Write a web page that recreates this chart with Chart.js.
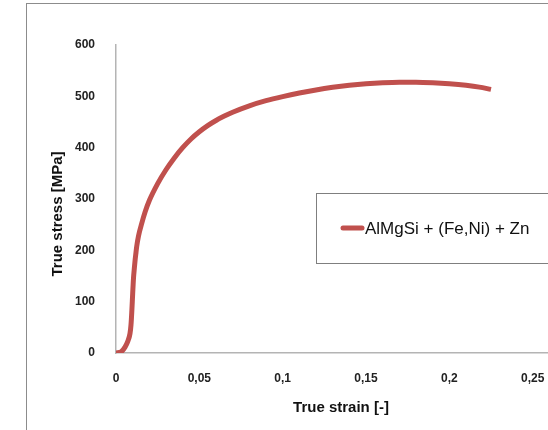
<!DOCTYPE html>
<html>
<head>
    <script src="https://cdn.jsdelivr.net/npm/chart.js"></script>
    <style>
        body { margin: 0; background: #fff; }
        #wrap { position: relative; width: 548px; height: 430px; overflow: hidden; }
        #frame { position: absolute; left: 26px; top: 3px; width: 700px; height: 600px; border: 1.5px solid #8c8c8c; }
        #stressChart { position: absolute; left: 0; top: 0; }
    </style>
</head>
<body>
    <div id="wrap">
        <div id="frame"></div>
        <canvas id="stressChart" width="600" height="430"></canvas>
    </div>

    <script>
    // values
    const seriesName = "AlMgSi + (Fe,Ni) + Zn";
    const strain = [0, 0.003, 0.0055, 0.007, 0.0084, 0.009, 0.0095, 0.010, 0.0105, 0.011, 0.0115, 0.012, 0.0124, 0.0135, 0.0154, 0.0175, 0.020, 0.025, 0.030, 0.035, 0.040, 0.045, 0.050, 0.055, 0.060, 0.065, 0.070, 0.080, 0.090, 0.100, 0.110, 0.120, 0.130, 0.140, 0.150, 0.160, 0.170, 0.180, 0.190, 0.200, 0.210, 0.218, 0.225];
    const stress = [0, 2, 12, 22, 38, 55, 82, 115, 146, 165, 182, 196, 207, 228, 252, 275, 297, 330, 357, 380, 400, 417, 431, 443, 453, 461.5, 469, 481.5, 491.5, 499.5, 506.5, 512.5, 517.5, 521.5, 524.5, 526.5, 527.5, 527.5, 526.5, 524.5, 521.5, 518, 513.5];
    const xTicks = [0, 0.05, 0.1, 0.15, 0.2, 0.25];
    const yTicks = [0, 100, 200, 300, 400, 500, 600];
    const xTitle = "True strain [-]";
    const yTitle = "True stress [MPa]";

    const lineColor = "#c0504d";
    const fontFamily = "'Liberation Sans', Arial, sans-serif";

    // legend box sitting inside the plot + y title placed like the original
    const extras = {
        id: "extras",
        afterDraw(chart) {
            const ctx = chart.ctx;
            const ds = chart.data.datasets[0];
            ctx.save();
            ctx.strokeStyle = "#7f7f7f";
            ctx.lineWidth = 1;
            ctx.strokeRect(316.5, 193.5, 240, 70);
            ctx.strokeStyle = ds.borderColor;
            ctx.lineWidth = 5;
            ctx.lineCap = "round";
            ctx.beginPath();
            ctx.moveTo(343, 228);
            ctx.lineTo(362, 228);
            ctx.stroke();
            ctx.fillStyle = "#111";
            ctx.font = "17px " + fontFamily;
            ctx.textBaseline = "middle";
            ctx.fillText(ds.label, 365, 229);

            ctx.translate(58, 214);
            ctx.rotate(-Math.PI / 2);
            ctx.font = "bold 15px " + fontFamily;
            ctx.textAlign = "center";
            ctx.fillText(yTitle, 0, 0);
            ctx.restore();
        }
    };

    function fmt(v) {
        return String(+v.toFixed(2)).replace(".", ",");
    }

    const ctx = document.getElementById("stressChart").getContext("2d");
    new Chart(ctx, {
        type: "line",
        data: {
            datasets: [{
                label: seriesName,
                data: strain.map((x, i) => ({ x: x, y: stress[i] })),
                borderColor: lineColor,
                borderWidth: 5,
                pointRadius: 0,
                cubicInterpolationMode: "monotone",
                fill: false
            }]
        },
        options: {
            responsive: false,
            animation: false,
            layout: { padding: { left: 0, top: 45, right: 34, bottom: 0 } },
            plugins: {
                legend: { display: false },
                tooltip: { enabled: false }
            },
            scales: {
                x: {
                    type: "linear",
                    min: 0,
                    max: 0.27,
                    afterFit(scale) { scale.height = 77; },
                    afterBuildTicks(scale) { scale.ticks = xTicks.map(v => ({ value: v })); },
                    grid: { display: false },
                    border: { display: true, color: "#b4b4b4", width: 1.5 },
                    ticks: {
                        padding: 10,
                        color: "#222",
                        font: { family: fontFamily, size: 12, weight: "bold" },
                        callback: v => fmt(v)
                    },
                    title: {
                        display: true,
                        text: xTitle,
                        color: "#111",
                        font: { family: fontFamily, size: 15, weight: "bold" },
                        padding: { top: 0, bottom: 13 }
                    }
                },
                y: {
                    min: 0,
                    max: 600,
                    afterFit(scale) { scale.width = 116; },
                    afterBuildTicks(scale) { scale.ticks = yTicks.map(v => ({ value: v })); },
                    grid: { display: false },
                    border: { display: true, color: "#b4b4b4", width: 1.5 },
                    ticks: {
                        padding: 13,
                        color: "#222",
                        font: { family: fontFamily, size: 12, weight: "bold" }
                    }
                }
            }
        },
        plugins: [extras]
    });
    </script>
</body>
</html>
